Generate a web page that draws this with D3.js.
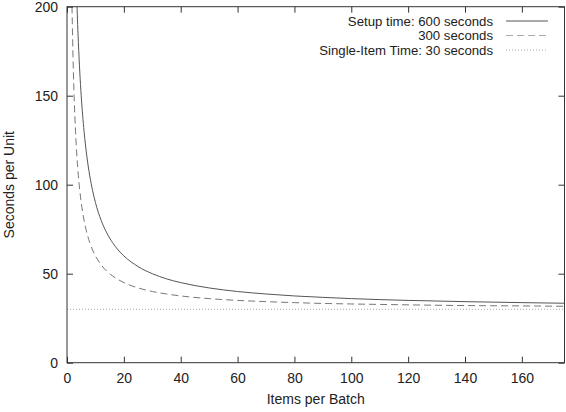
<!DOCTYPE html>
<html><head><meta charset="utf-8">
<script src="https://cdn.jsdelivr.net/npm/d3@7"></script>
<style>
body{margin:0;background:#fff}
text{font-family:"Liberation Sans",Arial,Helvetica,sans-serif;font-size:14px;fill:#222}
</style></head>
<body>
<svg id="c" width="566" height="412"></svg>
<script>
const batchSizes = [1,1.5,2,2.5,3,3.5,4,4.5,5,6,7,8,9,10,12,14,16,18,20,25,30,35,40,50,60,70,80,90,100,120,140,160,175];
const setup600 = [630,430,330,270,230,201.4,180,163.3,150,130,115.7,105,96.7,90,80,72.9,67.5,63.3,60,54,50,47.1,45,42,40,38.6,37.5,36.7,36,35,34.3,33.75,33.4];
const setup300 = [330,230,180,150,130,115.7,105,96.7,90,80,72.9,67.5,63.3,60,55,51.4,48.75,46.7,45,42,40,38.6,37.5,36,35,34.3,33.75,33.3,33,32.5,32.1,31.9,31.7];
const singleItem = [30,30];
const singleItemX = [0,175];
const xTicks = [0,20,40,60,80,100,120,140,160];
const yTicks = [0,50,100,150,200];
const legendLabels = ["Setup time: 600 seconds","300 seconds","Single-Item Time: 30 seconds"];

const svg = d3.select("#c");
const L=67, R=564.5, T=6.7, B=362.7;
const x = d3.scaleLinear().domain([0,175]).range([L,R]);
const y = d3.scaleLinear().domain([0,200]).range([B,T]);

svg.append("defs").append("clipPath").attr("id","clip")
  .append("rect").attr("x",L).attr("y",T).attr("width",R-L).attr("height",B-T);

const g = svg.append("g").attr("clip-path","url(#clip)");
const line = d3.line().x(d=>x(d[0])).y(d=>y(d[1])).curve(d3.curveMonotoneX);

g.append("path").datum(singleItemX.map((v,i)=>[v,singleItem[i]])).attr("d",line)
  .attr("fill","none").attr("stroke","#aaa").attr("stroke-width",1).attr("stroke-dasharray","1,2");
g.append("path").datum(batchSizes.map((v,i)=>[v,setup300[i]])).attr("d",line)
  .attr("fill","none").attr("stroke","#777").attr("stroke-width",1).attr("stroke-dasharray","7,4");
g.append("path").datum(batchSizes.map((v,i)=>[v,setup600[i]])).attr("d",line)
  .attr("fill","none").attr("stroke","#555").attr("stroke-width",1);

// axes
const axColor="#333";
const tl=6;
svg.append("g").attr("transform",`translate(0,${B})`)
  .call(d3.axisBottom(x).tickValues(xTicks).tickSize(-tl).tickPadding(10))
  .call(a=>{a.select(".domain").remove();a.selectAll("line").attr("stroke",axColor);a.selectAll("text").attr("font-size",14).attr("fill","#222");});
svg.append("g").attr("transform",`translate(0,${T})`)
  .call(d3.axisTop(x).tickValues(xTicks).tickSize(-tl).tickFormat(""))
  .call(a=>{a.select(".domain").remove();a.selectAll("line").attr("stroke",axColor);});
svg.append("g").attr("transform",`translate(${L},0)`)
  .call(d3.axisLeft(y).tickValues(yTicks).tickSize(-tl).tickPadding(9))
  .call(a=>{a.select(".domain").remove();a.selectAll("line").attr("stroke",axColor);a.selectAll("text").attr("font-size",14).attr("fill","#222");});
svg.append("g").attr("transform",`translate(${R},0)`)
  .call(d3.axisRight(y).tickValues(yTicks).tickSize(-tl).tickFormat(""))
  .call(a=>{a.select(".domain").remove();a.selectAll("line").attr("stroke",axColor);});
svg.append("rect").attr("x",L).attr("y",T).attr("width",R-L).attr("height",B-T)
  .attr("fill","none").attr("stroke",axColor).attr("stroke-width",1);

// axis titles
svg.append("text").attr("x",(L+R)/2).attr("y",404).attr("text-anchor","middle").text("Items per Batch");
svg.append("text").attr("transform",`translate(14,${(T+B)/2}) rotate(-90)`).attr("text-anchor","middle").text("Seconds per Unit");

// legend
const styles=[{c:"#555",d:null},{c:"#aaa",d:"7,4"},{c:"#aaa",d:"1,2"}];
legendLabels.forEach((lab,i)=>{
  const yy = 21 + i*14.5;
  svg.append("text").attr("x",493).attr("y",yy).attr("dy","0.35em").attr("text-anchor","end")
    .attr("font-size",13.2).style("font-size","13.2px").text(lab);
  const ln = svg.append("line").attr("x1",506).attr("x2",548).attr("y1",yy).attr("y2",yy)
    .attr("stroke",styles[i].c).attr("stroke-width",1);
  if(styles[i].d) ln.attr("stroke-dasharray",styles[i].d);
});
</script>
</body></html>
